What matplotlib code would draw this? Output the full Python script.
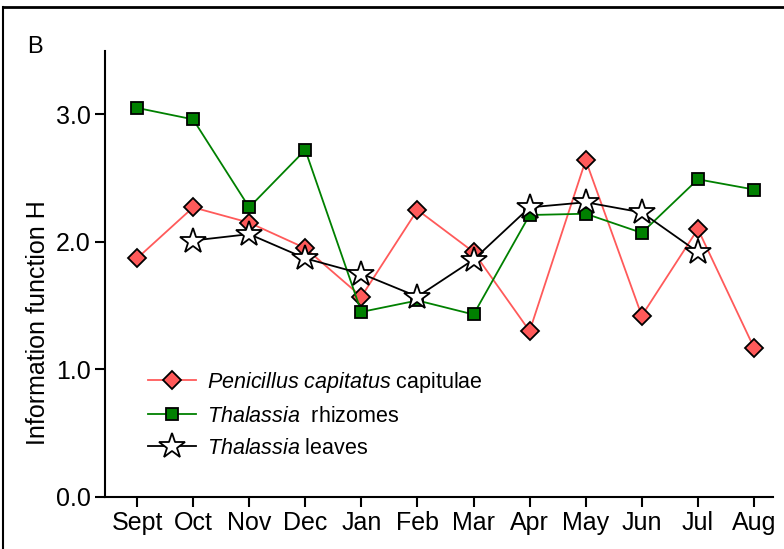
import numpy as np
import matplotlib
matplotlib.use("Agg")
import matplotlib.pyplot as plt
from matplotlib.lines import Line2D

plt.rcParams['font.family'] = ['Liberation Sans', 'DejaVu Sans']
plt.rcParams['mathtext.fontset'] = 'custom'
plt.rcParams['mathtext.rm'] = 'Liberation Sans'
plt.rcParams['mathtext.it'] = 'Liberation Sans:italic'

months = ["Sept", "Oct", "Nov", "Dec", "Jan", "Feb", "Mar", "Apr", "May", "Jun", "Jul", "Aug"]
penicillus = [1.87, 2.27, 2.15, 1.95, 1.57, 2.25, 1.92, 1.30, 2.64, 1.42, 2.10, 1.17]
rhizomes = [3.05, 2.96, 2.27, 2.72, 1.45, 1.54, 1.43, 2.21, 2.22, 2.07, 2.49, 2.41]
leaves_months = ["Oct", "Nov", "Dec", "Jan", "Feb", "Mar", "Apr", "May", "Jun", "Jul"]
leaves = [2.01, 2.06, 1.87, 1.75, 1.57, 1.86, 2.27, 2.31, 2.23, 1.92]

x = np.arange(len(months))
xl = [months.index(m) for m in leaves_months]

fig = plt.figure(figsize=(7.84, 5.49), dpi=100)
ax = fig.add_axes([0.134, 0.095, 0.852, 0.813])

ax.plot(x, penicillus, color='#ff5a5a', lw=1.3, marker='D', ms=9.5,
        mfc='#ff5a5a', mec='black', mew=1.3,
        label=r"$\it{Penicillus\ capitatus}$ capitulae")
ax.plot(x, rhizomes, color='#008000', lw=1.3, marker='s', ms=8.5,
        mfc='#008000', mec='black', mew=1.3,
        label=r"$\it{Thalassia}$  rhizomes")
ax.plot(xl, leaves, color='black', lw=1.3, marker='*', ms=19,
        mfc='white', mec='black', mew=1.3,
        label=r"$\it{Thalassia}$ leaves")

ax.set_xlim(-0.57, 11.34)
ax.set_ylim(0, 3.5)
ax.set_xticks(x)
ax.set_xticklabels(months, fontsize=18)
ax.set_yticks([0, 1, 2, 3])
ax.set_yticklabels(["0.0", "1.0", "2.0", "3.0"], fontsize=18)
ax.tick_params(width=1.5, length=7)
for s in ['top', 'right']:
    ax.spines[s].set_visible(False)
for s in ['left', 'bottom']:
    ax.spines[s].set_linewidth(1.5)

ax.set_ylabel("Information function H", fontsize=18)
ax.yaxis.set_label_coords(-0.082, 0.39)

ax.legend(loc='upper left', bbox_to_anchor=(0.065, 0.285), frameon=False,
          fontsize=15.5, borderaxespad=0, borderpad=0, handlelength=2.2,
          labelspacing=0.52, handletextpad=0.5)

fig.text(27 / 784, 1 - 47 / 549, "B", fontsize=17, va='center', ha='left')

# frame around the panel
fig.add_artist(Line2D([3 / 784, 3 / 784], [0, 1 - 7 / 549], color='black', lw=1.5,
                      transform=fig.transFigure))
fig.add_artist(Line2D([3 / 784, 1], [1 - 7 / 549, 1 - 7 / 549], color='black', lw=2,
                      transform=fig.transFigure))

fig.savefig("out.png", dpi=100)
